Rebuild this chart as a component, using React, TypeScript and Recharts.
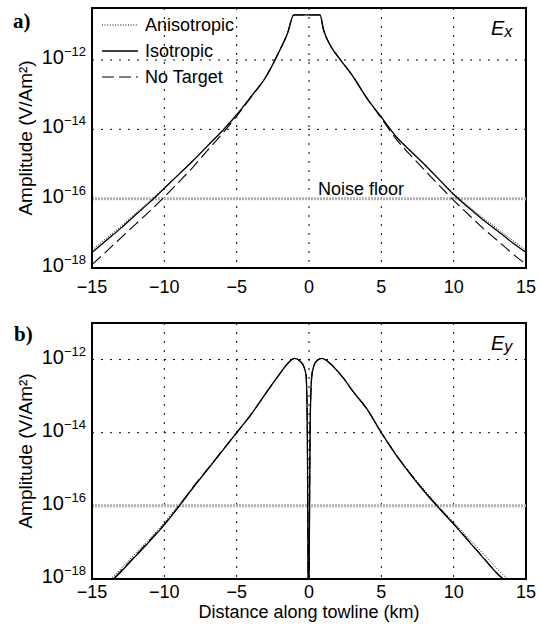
import React from 'react';
import {
  LineChart,
  Line,
  XAxis,
  YAxis,
  CartesianGrid,
  ReferenceLine,
  ReferenceDot,
  ReferenceArea,
  Legend,
} from 'recharts';

// Inline component Ex: distance along towline (km) and log10 amplitude (V/Am²)
const exDistance = [
  -15, -14, -13, -12, -11, -10, -9, -8, -7, -6, -5, -4, -3, -2, -1.5, -1.05, 0, 0.76, 1, 1.5, 2, 3, 4, 5, 6, 7,
  8, 9, 10, 11, 12, 13, 14, 15,
];
const exAnisotropic = [
  -17.48, -17.14, -16.8, -16.43, -16.07, -15.68, -15.29, -14.9, -14.47, -14.05, -13.58, -13.05, -12.5, -11.7,
  -11.25, -10.7, -10.7, -10.7, -11.12, -11.6, -11.9, -12.45, -13.1, -13.65, -14.2, -14.62, -15.01, -15.43,
  -15.85, -16.21, -16.55, -16.86, -17.18, -17.48,
];
const exIsotropic = [
  -17.55, -17.2, -16.85, -16.47, -16.1, -15.7, -15.3, -14.9, -14.47, -14.05, -13.58, -13.05, -12.5, -11.7,
  -11.25, -10.7, -10.7, -10.7, -11.12, -11.6, -11.9, -12.45, -13.1, -13.65, -14.2, -14.62, -15.02, -15.45,
  -15.88, -16.25, -16.6, -16.92, -17.25, -17.55,
];
const exNoTarget = [
  -17.9, -17.52, -17.13, -16.74, -16.36, -15.95, -15.52, -15.08, -14.6, -14.13, -13.62, -13.07, -12.5, -11.7,
  -11.25, -10.7, -10.7, -10.7, -11.12, -11.6, -11.9, -12.45, -13.1, -13.68, -14.27, -14.74, -15.18, -15.62,
  -16.05, -16.45, -16.84, -17.2, -17.56, -17.9,
];

// Crossline component Ey, same units
const eyDistance = [
  -15, -14, -13.5, -13, -12, -11, -10, -9, -8, -7, -6, -5, -4, -3, -2.5, -2, -1.5, -1, -0.6, -0.35, -0.2, -0.12,
  -0.03, 0.08, 0.18, 0.3, 0.5, 0.87, 1.5, 2, 2.5, 3, 4, 5, 6, 7, 8, 9, 10, 11, 12, 13, 13.4, 14, 15,
];
const eyAnisotropic = [
  -18.6, -18.1, -17.92, -17.72, -17.3, -16.9, -16.46, -15.97, -15.47, -14.98, -14.5, -14.0, -13.5, -12.93,
  -12.65, -12.38, -12.12, -11.97, -12.05, -12.2, -12.45, -13.8, -19.5, -13.8, -12.5, -12.22, -12.05, -11.97,
  -12.12, -12.33, -12.57, -12.85, -13.35, -14.0, -14.58, -15.1, -15.58, -16.03, -16.45, -16.87, -17.29, -17.72,
  -17.88, -18.1, -18.5,
];
const eyIsotropic = [
  -18.7, -18.2, -18.0, -17.8, -17.38, -16.96, -16.52, -16.02, -15.5, -15.0, -14.5, -14.0, -13.5, -12.93, -12.65,
  -12.38, -12.12, -11.97, -12.05, -12.2, -12.45, -13.8, -19.5, -13.8, -12.5, -12.22, -12.05, -11.97, -12.12,
  -12.33, -12.57, -12.85, -13.35, -14.0, -14.6, -15.13, -15.62, -16.07, -16.5, -16.95, -17.4, -17.85, -18.0,
  -18.25, -18.7,
];
const eyNoTarget = [
  -18.68, -18.19, -17.99, -17.78, -17.36, -16.94, -16.5, -16.01, -15.48, -14.99, -14.49, -14.0, -13.5, -12.93,
  -12.65, -12.38, -12.12, -11.97, -12.05, -12.2, -12.45, -13.8, -19.5, -13.8, -12.5, -12.22, -12.05, -11.97,
  -12.12, -12.33, -12.57, -12.85, -13.35, -14.0, -14.59, -15.12, -15.61, -16.06, -16.49, -16.94, -17.39, -17.84,
  -17.99, -18.24, -18.68,
];

const xTicks = [-15, -10, -5, 0, 5, 10, 15];
const yTicks = [1e-18, 1e-16, 1e-14, 1e-12];
const noiseFloor = 1e-16;

const seriesNames: Record<string, string> = {
  aniso: 'Anisotropic',
  iso: 'Isotropic',
  none: 'No Target',
};

const lineStyles: Record<string, { strokeWidth: number; strokeDasharray?: string }> = {
  aniso: { strokeWidth: 1, strokeDasharray: '1 1.6' },
  iso: { strokeWidth: 1.3 },
  none: { strokeWidth: 1.1, strokeDasharray: '12 5' },
};

const toRows = (dist: number[], aniso: number[], iso: number[], none: number[]) =>
  dist.map((d, i) => ({ d, aniso: 10 ** aniso[i], iso: 10 ** iso[i], none: 10 ** none[i] }));

const exRows = toRows(exDistance, exAnisotropic, exIsotropic, exNoTarget);
const eyRows = toRows(eyDistance, eyAnisotropic, eyIsotropic, eyNoTarget);

const fmtDist = (v: number) => (v < 0 ? `\u2212${-v}` : `${v}`);

// 10 with a superscript exponent, like MATLAB's log axis labels
const PowTick = ({ x, y, payload }: any) => {
  const exp = Math.round(Math.log10(payload.value));
  return (
    <text x={x} y={y} dy={4} textAnchor="end" fontSize={20} fill="#000">
      10
      <tspan dy={-8} fontSize={13}>
        {exp < 0 ? `\u2212${-exp}` : `${exp}`}
      </tspan>
    </text>
  );
};

const LegendBox = ({ payload }: any) => (
  <div>
    {(payload || []).map((entry: any) => (
      <div key={entry.dataKey} style={{ display: 'flex', alignItems: 'center', height: 26 }}>
        <svg width={38} height={10}>
          <line x1={1} y1={5} x2={37} y2={5} stroke="#000" {...lineStyles[entry.dataKey]} />
        </svg>
        <span style={{ marginLeft: 6, fontSize: 18, color: '#000' }}>{entry.value}</span>
      </div>
    ))}
  </div>
);

interface PanelProps {
  rows: { d: number; aniso: number; iso: number; none: number }[];
  yTop: number;
  height: number;
  margin: { top: number; right: number; bottom: number; left: number };
  xAxisHeight: number;
  xTickMargin: number;
  xLabel?: string;
  withLegend?: boolean;
  noiseLabel?: boolean;
}

const Panel = ({ rows, yTop, height, margin, xAxisHeight, xTickMargin, xLabel, withLegend, noiseLabel }: PanelProps) => (
  <LineChart width={540} height={height} data={rows} margin={margin}>
    <CartesianGrid stroke="#000" strokeDasharray="2 7" strokeWidth={1} />
    <XAxis
      dataKey="d"
      type="number"
      domain={[-15, 15]}
      ticks={xTicks}
      tickFormatter={fmtDist}
      tickLine={false}
      tickMargin={xTickMargin}
      tick={{ fontSize: 18, fill: '#000' }}
      axisLine={{ stroke: '#000', strokeWidth: 2 }}
      height={xAxisHeight}
      label={
        xLabel
          ? { value: xLabel, position: 'insideBottom', offset: 0, fontSize: 18, fill: '#000' }
          : undefined
      }
    />
    <YAxis
      scale="log"
      domain={[1e-18, yTop]}
      allowDataOverflow
      ticks={yTicks}
      tick={<PowTick />}
      tickLine={false}
      tickMargin={0}
      width={80}
      axisLine={{ stroke: '#000', strokeWidth: 2 }}
      label={{
        value: 'Amplitude (V/Am\u00b2)',
        angle: -90,
        position: 'insideLeft',
        offset: 13,
        fontSize: 19,
        fill: '#000',
        style: { textAnchor: 'middle' },
      }}
    />
    <ReferenceLine y={noiseFloor} stroke="#b0b0b0" strokeWidth={3} strokeDasharray="2 1" />
    {noiseLabel && (
      <ReferenceDot
        x={3.6}
        y={noiseFloor}
        r={0}
        fill="none"
        stroke="none"
        label={{ value: 'Noise floor', position: 'top', offset: 4, fontSize: 18, fill: '#000' }}
      />
    )}
    {['aniso', 'iso', 'none'].map((key) => (
      <Line
        key={key}
        dataKey={key}
        name={seriesNames[key]}
        type="monotone"
        stroke="#000"
        dot={false}
        activeDot={false}
        isAnimationActive={false}
        {...lineStyles[key]}
      />
    ))}
    <ReferenceArea x1={-15} x2={15} y1={1e-18} y2={yTop} fill="none" stroke="#000" strokeWidth={2} />
    {withLegend && (
      <Legend
        layout="vertical"
        align="center"
        verticalAlign="middle"
        content={<LegendBox />}
        wrapperStyle={{ left: 101, top: 12, width: 200, height: 80 }}
      />
    )}
  </LineChart>
);

export default function App() {
  return (
    <div
      style={{
        position: 'absolute',
        left: 0,
        top: 0,
        width: 540,
        height: 627,
        background: '#fff',
        fontFamily: '"Liberation Sans", Arial, sans-serif',
      }}
    >
      <div style={{ position: 'absolute', left: 0, top: 0 }}>
        <Panel
          rows={exRows}
          yTop={10 ** -10.5}
          height={310}
          margin={{ top: 8, right: 14, bottom: 12, left: 12 }}
          xAxisHeight={30}
          xTickMargin={6}
          withLegend
          noiseLabel
        />
      </div>
      <div style={{ position: 'absolute', left: 0, top: 310 }}>
        <Panel
          rows={eyRows}
          yTop={1e-11}
          height={317}
          margin={{ top: 13, right: 14, bottom: 9, left: 12 }}
          xAxisHeight={39}
          xTickMargin={0}
          xLabel="Distance along towline (km)"
        />
      </div>
      <svg width={540} height={627} style={{ position: 'absolute', left: 0, top: 0, pointerEvents: 'none' }}>
        <text x={13} y={28} fontFamily='"Liberation Serif", "Times New Roman", serif' fontWeight="bold" fontSize={21}>
          a)
        </text>
        <text x={14} y={341} fontFamily='"Liberation Serif", "Times New Roman", serif' fontWeight="bold" fontSize={21}>
          b)
        </text>
        <text x={491} y={35} fontStyle="italic" fontSize={20}>
          E<tspan dy={2} fontSize={16}>x</tspan>
        </text>
        <text x={491} y={350} fontStyle="italic" fontSize={20}>
          E<tspan dy={2} fontSize={16}>y</tspan>
        </text>
      </svg>
    </div>
  );
}
